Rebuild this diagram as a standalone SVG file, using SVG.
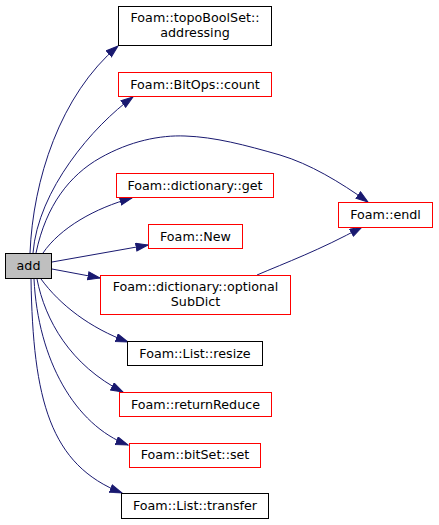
<svg xmlns="http://www.w3.org/2000/svg" width="439" height="525" viewBox="0 0 439 525">
<style>
  rect { stroke-width: 1; }
  .blk { fill: #ffffff; stroke: #000000; }
  .red { fill: #ffffff; stroke: #ff0000; }
  .cur { fill: #bfbfbf; stroke: #000000; }
  text { font-family: "DejaVu Sans", "Liberation Sans", sans-serif; font-size: 12.7px; fill: #000000; text-anchor: middle; }
  .edge { fill: none; stroke: #191970; stroke-width: 1; marker-end: url(#arr); }
</style>
<defs>
  <marker id="arr" markerUnits="userSpaceOnUse" markerWidth="14" markerHeight="10" refX="12.5" refY="4.5" orient="auto">
    <path d="M0.5,0.5 L12.5,4.5 L0.5,8.5 z" fill="#191970" stroke="#191970" stroke-width="1"/>
  </marker>
</defs>
<rect width="439" height="525" fill="#ffffff"/>
<g id="edges">
  <path class="edge" d="M30,253 C33,180 60,95 118,46"/>
  <path class="edge" d="M33,253 C38,190 93,126 133,97"/>
  <path class="edge" d="M36,253 C46,205 70,175 100,158 C130,141 160,135 185,136 C215,137 245,145 280,155 C310,164 340,182 368,202"/>
  <path class="edge" d="M43,253 C60,228 95,208 132,198"/>
  <path class="edge" d="M52,262 L148,245"/>
  <path class="edge" d="M52,269 L100,278"/>
  <path class="edge" d="M41,279 C60,305 90,328 128,342"/>
  <path class="edge" d="M37,279 C45,320 70,365 123,392"/>
  <path class="edge" d="M34,279 C38,360 75,425 128,445"/>
  <path class="edge" d="M31,279 C33,400 50,465 122,493"/>
  <path class="edge" d="M257,275 C285,263 320,250 362,227"/>
</g>
<g id="node-add">
  <rect class="cur" x="5.5" y="253.5" width="46" height="25"/>
  <text x="28.5" y="270">add</text>
</g>
<g id="node-addressing">
  <rect class="blk" x="118.5" y="6.5" width="153" height="39"/>
  <text x="195" y="22">Foam::topoBoolSet::</text>
  <text x="195" y="36.5">addressing</text>
</g>
<g id="node-count">
  <rect class="red" x="118.5" y="72.5" width="153" height="24"/>
  <text x="195" y="88.5">Foam::BitOps::count</text>
</g>
<g id="node-endl">
  <rect class="red" x="338.5" y="202.5" width="94" height="25"/>
  <text x="385.5" y="218.5">Foam::endl</text>
</g>
<g id="node-get">
  <rect class="red" x="116.5" y="173.5" width="157" height="24"/>
  <text x="195" y="189.5">Foam::dictionary::get</text>
</g>
<g id="node-new">
  <rect class="red" x="148.5" y="224.5" width="94" height="24"/>
  <text x="195.5" y="240.5">Foam::New</text>
</g>
<g id="node-optionalsubdict">
  <rect class="red" x="100.5" y="275.5" width="190" height="39"/>
  <text x="195.5" y="291">Foam::dictionary::optional</text>
  <text x="195.5" y="306">SubDict</text>
</g>
<g id="node-resize">
  <rect class="blk" x="127.5" y="341.5" width="135" height="24"/>
  <text x="195" y="357.5">Foam::List::resize</text>
</g>
<g id="node-returnreduce">
  <rect class="red" x="119.5" y="392.5" width="152" height="24"/>
  <text x="195.5" y="408.5">Foam::returnReduce</text>
</g>
<g id="node-set">
  <rect class="red" x="129.5" y="443.5" width="131" height="24"/>
  <text x="195" y="459">Foam::bitSet::set</text>
</g>
<g id="node-transfer">
  <rect class="blk" x="121.5" y="493.5" width="147" height="25"/>
  <text x="195" y="510">Foam::List::transfer</text>
</g>
</svg>
